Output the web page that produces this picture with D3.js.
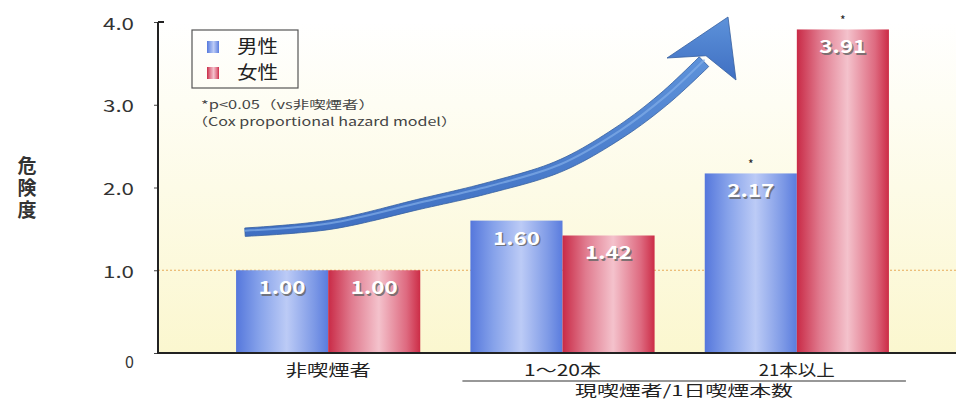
<!DOCTYPE html>
<html><head><meta charset="utf-8">
<script src="https://cdn.jsdelivr.net/npm/d3@7"></script>
<style>
html,body{margin:0;padding:0;background:#fff;}
svg{display:block;}
text{font-family:"Noto Sans CJK JP","Noto Sans",sans-serif;}
</style></head>
<body>
<svg id="chart" width="956" height="401"></svg>
<script>
const categories = ["非喫煙者", "1〜20本", "21本以上"];
const seriesNames = ["男性", "女性"];
const maleValues = [1.00, 1.60, 2.17];
const femaleValues = [1.00, 1.42, 3.91];
const maleSignificant = [false, false, true];
const femaleSignificant = [false, false, true];
const yTicks = [0, 1, 2, 3, 4];
const yTickLabels = ["0", "1.0", "2.0", "3.0", "4.0"];
const yLabel = "危険度";
const groupLabel = "現喫煙者/1日喫煙本数";
const noteLines = ["*p<0.05（vs非喫煙者）", "（Cox proportional hazard model）"];

const svg = d3.select("#chart");
const W = 956, H = 401;
const axisX = 158, baseY = 353, topY = 22;

const y = d3.scaleLinear().domain([0, 4]).range([baseY, baseY - 4 * 82.75]);
const x0 = d3.scaleBand().domain(categories).range([211, 914]).paddingInner(0.214).paddingOuter(0.107);
const x1 = d3.scaleBand().domain(seriesNames).range([0, x0.bandwidth()]).padding(0);

const defs = svg.append("defs");
const bg = defs.append("linearGradient").attr("id", "bg").attr("x1", 0).attr("y1", 0).attr("x2", 0).attr("y2", 1);
bg.append("stop").attr("offset", "0%").attr("stop-color", "#ffffff");
bg.append("stop").attr("offset", "100%").attr("stop-color", "#fbf7cf");

function barGrad(id, stops) {
  const g = defs.append("linearGradient").attr("id", id).attr("x1", 0).attr("y1", 0).attr("x2", 1).attr("y2", 0);
  stops.forEach(s => g.append("stop").attr("offset", s[0]).attr("stop-color", s[1]));
}
barGrad("gMale", [["0%", "#5577dc"], ["25%", "#86a2ea"], ["55%", "#bccbf6"], ["85%", "#7d99e6"], ["100%", "#5a7cde"]]);
barGrad("gFemale", [["0%", "#c92a46"], ["25%", "#e07a8e"], ["55%", "#f4c2cc"], ["85%", "#de6a80"], ["100%", "#cc2c46"]]);
const arrowGrad = defs.append("linearGradient").attr("id", "gArrow").attr("x1", 0).attr("y1", 1).attr("x2", 0).attr("y2", 0);
arrowGrad.append("stop").attr("offset", "0%").attr("stop-color", "#3f6fc2");
arrowGrad.append("stop").attr("offset", "100%").attr("stop-color", "#5d92da");

// background
svg.append("rect").attr("x", axisX).attr("y", topY).attr("width", W - axisX).attr("height", baseY - topY).attr("fill", "url(#bg)");

// dotted line at 1.0
svg.append("line").attr("x1", axisX).attr("x2", W).attr("y1", y(1)).attr("y2", y(1))
  .attr("stroke", "#e6aa5a").attr("stroke-width", 1.2).attr("stroke-dasharray", "2,2");

// arrow (decoration)
const arrowPts = [[245, y(1.46)], [330, y(1.55)], [420, y(1.80)], [490, y(2.00)], [560, y(2.26)], [620, y(2.67)], [665, y(3.08)], [704, y(3.52)]];
const tmpPath = svg.append("path").attr("d", d3.line().curve(d3.curveCatmullRom)(arrowPts)).attr("fill", "none").attr("stroke", "none");
const node = tmpPath.node();
const L = node.getTotalLength();
const N = 80, left = [], right = [];
for (let i = 0; i <= N; i++) {
  const l = L * i / N;
  const p = node.getPointAtLength(l);
  const q = node.getPointAtLength(Math.min(L, l + 1));
  const r = node.getPointAtLength(Math.max(0, l - 1));
  let dx = q.x - r.x, dy = q.y - r.y; const len = Math.hypot(dx, dy) || 1; dx /= len; dy /= len;
  const w = (4.2 + 2.6 * i / N);
  left.push([p.x - dy * w, p.y + dx * w]);
  right.push([p.x + dy * w, p.y - dx * w]);
}
tmpPath.remove();
const shaft = left.concat(right.reverse());
const endP = arrowPts[arrowPts.length - 1];
svg.append("path").attr("d", d3.line().curve(d3.curveLinearClosed)(shaft)).attr("fill", "url(#gArrow)").attr("stroke", "#36609f").attr("stroke-width", 0.8).attr("stroke-linejoin", "round");
svg.append("path").attr("d", d3.line().curve(d3.curveCatmullRom)(arrowPts.map(p => [p[0], p[1] - 1.5])))
  .attr("fill", "none").attr("stroke", "#82aee8").attr("stroke-width", 2).attr("stroke-linecap", "round").attr("opacity", 0.7);
const head = [[728, 17], [667, 58], [endP[0] + 2, endP[1] - 6], [736, 80]];
svg.append("path").attr("d", d3.line()(head) + "Z").attr("fill", "url(#gArrow)").attr("stroke", "#36609f").attr("stroke-width", 0.8);

// bars
const data = categories.map((c, i) => ({ cat: c, vals: [
  { s: seriesNames[0], v: maleValues[i], sig: maleSignificant[i], grad: "url(#gMale)" },
  { s: seriesNames[1], v: femaleValues[i], sig: femaleSignificant[i], grad: "url(#gFemale)" }
]}));
const groups = svg.append("g").selectAll("g").data(data).join("g").attr("transform", d => `translate(${x0(d.cat)},0)`);
groups.selectAll("rect").data(d => d.vals).join("rect")
  .attr("x", d => x1(d.s)).attr("width", x1.bandwidth())
  .attr("y", d => y(d.v)).attr("height", d => y(0) - y(d.v))
  .attr("fill", d => d.grad);
const lbl = groups.selectAll("g.lbl").data(d => d.vals).join("g").attr("class", "lbl");
lbl.append("text").attr("x", d => x1(d.s) + x1.bandwidth() / 2 + 1.5).attr("y", d => y(d.v) + 25.5)
  .attr("text-anchor", "middle").attr("font-family", "Liberation Sans, Arial, sans-serif").attr("font-weight", "bold")
  .attr("font-size", 18).attr("textLength", 47).attr("lengthAdjust", "spacingAndGlyphs").attr("fill", "#666").attr("opacity", 0.8).text(d => d.v.toFixed(2));
lbl.append("text").attr("x", d => x1(d.s) + x1.bandwidth() / 2).attr("y", d => y(d.v) + 24)
  .attr("text-anchor", "middle").attr("font-family", "Liberation Sans, Arial, sans-serif").attr("font-weight", "bold")
  .attr("font-size", 18).attr("textLength", 47).attr("lengthAdjust", "spacingAndGlyphs").attr("fill", "#ffffff").text(d => d.v.toFixed(2));
groups.selectAll("text.sig").data(d => d.vals.filter(v => v.sig)).join("text").attr("class", "sig")
  .attr("x", d => x1(d.s) + x1.bandwidth() / 2).attr("y", d => y(d.v) - 4)
  .attr("text-anchor", "middle").attr("font-size", 12).attr("fill", "#222").text("*");

// y axis
const yAxis = d3.axisLeft(y).tickValues(yTicks).tickFormat((d, i) => yTickLabels[i]).tickSize(4).tickPadding(20);
const yg = svg.append("g").attr("transform", `translate(${axisX},0)`).call(yAxis);
yg.select(".domain").remove();
yg.selectAll(".tick line").attr("stroke", "#444");
yg.selectAll(".tick text").attr("font-size", 16).attr("fill", "#333").attr("font-family", "Noto Sans, sans-serif")
  .attr("textLength", d => d === 0 ? null : 31).attr("lengthAdjust", "spacingAndGlyphs")
  .attr("dy", d => d === 0 ? "0.9em" : "0.45em");
svg.append("line").attr("x1", axisX).attr("x2", axisX).attr("y1", topY).attr("y2", baseY).attr("stroke", "#222").attr("stroke-width", 2);
svg.append("line").attr("x1", axisX).attr("x2", axisX + 6).attr("y1", topY).attr("y2", topY).attr("stroke", "#222").attr("stroke-width", 2);
svg.append("line").attr("x1", axisX - 1).attr("x2", W).attr("y1", baseY).attr("y2", baseY).attr("stroke", "#222").attr("stroke-width", 2);

// x labels
const xLabelWidths = [85, 77, 76];
const xAxis = d3.axisBottom(x0).tickSize(0).tickPadding(12);
const xg = svg.append("g").attr("transform", `translate(0,${baseY})`).call(xAxis);
xg.select(".domain").remove();
xg.selectAll(".tick text").attr("font-size", 16).attr("fill", "#222")
  .attr("textLength", (d, i) => xLabelWidths[i]).attr("lengthAdjust", "spacingAndGlyphs");

// group bracket
const gx1 = x0(categories[1]) - 8, gx2 = x0(categories[2]) + x0.bandwidth() + 17;
svg.append("line").attr("x1", gx1).attr("x2", gx2).attr("y1", 381).attr("y2", 381).attr("stroke", "#333").attr("stroke-width", 1.2);
svg.append("text").attr("x", 684).attr("y", 396).attr("text-anchor", "middle").attr("font-size", 15).attr("fill", "#222")
  .attr("textLength", 218).attr("lengthAdjust", "spacingAndGlyphs").text(groupLabel);

// y label vertical
svg.append("text").attr("x", 27).attr("y", 156)
  .attr("style", "writing-mode: vertical-rl; text-orientation: upright;")
  .attr("font-size", 19).attr("letter-spacing", 3).attr("font-weight", "bold").attr("fill", "#333").text(yLabel);

// legend
const lg = svg.append("g");
lg.append("rect").attr("x", 192).attr("y", 30).attr("width", 106).attr("height", 58).attr("fill", "none").attr("stroke", "#555").attr("stroke-width", 1.2);
const lgItems = lg.selectAll("g").data(seriesNames).join("g").attr("transform", (d, i) => `translate(207,${41 + i * 26})`);
lgItems.append("rect").attr("width", 12).attr("height", 12).attr("fill", (d, i) => i === 0 ? "url(#gMale)" : "url(#gFemale)");
lgItems.append("text").attr("x", 30).attr("y", 12).attr("font-size", 18).attr("textLength", 41).attr("lengthAdjust", "spacingAndGlyphs").attr("fill", "#222").text(d => d);

// note
const noteWidths = [174, 265];
svg.append("g").selectAll("text").data(noteLines).join("text")
  .attr("x", (d, i) => i === 0 ? 201 : 192).attr("y", (d, i) => 109 + i * 17)
  .attr("font-size", 11.5).attr("fill", "#444")
  .attr("textLength", (d, i) => noteWidths[i]).attr("lengthAdjust", "spacingAndGlyphs").text(d => d);
</script>
</body></html>
